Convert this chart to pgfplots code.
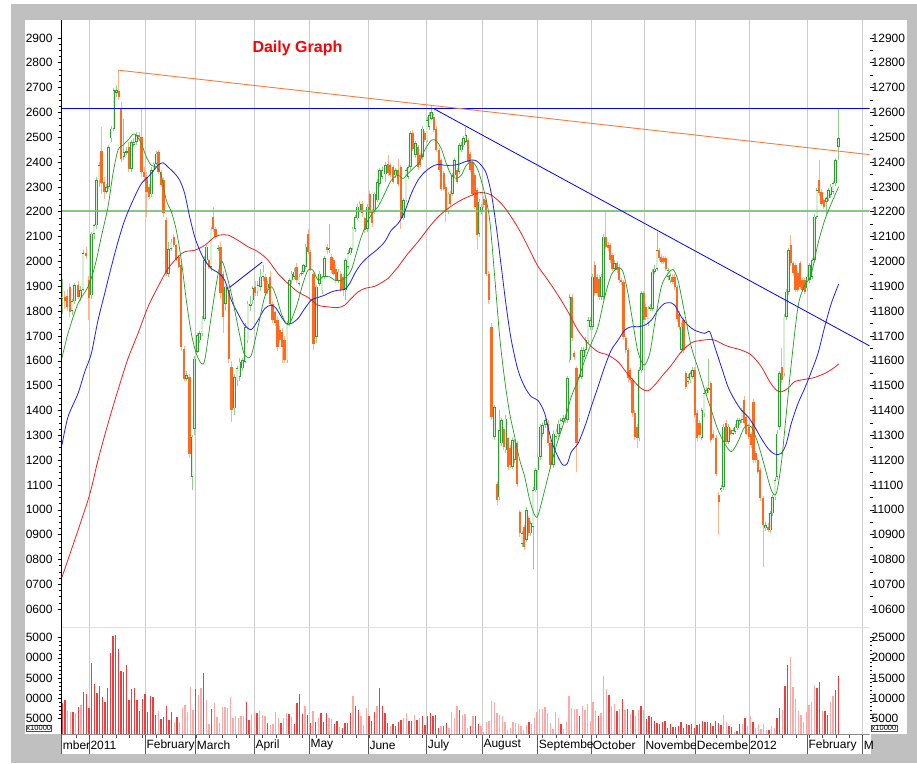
\documentclass[border=0pt]{standalone}
\usepackage{fontspec}
\setmainfont{Liberation Sans}
\usepackage{pgfplots}
\usepackage{pgfplotstable}
\pgfplotsset{compat=1.18}
\pgfplotsset{scaled x ticks=false, scaled y ticks=false}
\definecolor{cOr}{HTML}{FF6A1F}
\definecolor{cOrW}{HTML}{FFB48C}
\definecolor{cGr}{HTML}{2E9E2E}
\definecolor{cGrW}{HTML}{8FD08F}
\definecolor{cGrF}{HTML}{D6F0D6}
\definecolor{cVolD}{HTML}{F03C3C}
\definecolor{cVolL}{HTML}{FFA8A8}
\definecolor{cGrid}{HTML}{CCCCCC}
\definecolor{cFrame}{HTML}{C0C0C0}
\definecolor{cMAg}{HTML}{1E9E1E}
\definecolor{cMAb}{HTML}{2020F0}
\definecolor{cMAr}{HTML}{F02020}
\definecolor{cHG}{HTML}{70C070}
\definecolor{cTrO}{HTML}{FF7A3A}

\pgfplotstableread{
x o h l c
62.0 11850 11931 11790 11858
72.0 11800 11850 11785 11840
74.7 11840 11915 11830 11905
80.7 11855 11900 11840 11885
83.0 11885 12045 11880 12032
91.5 11864 12120 11850 12112
94.0 12112 12150 12090 12146
96.5 12146 12340 12130 12327
99.0 12327 12400 12300 12387
106.3 12280 12310 12270 12300
108.7 12300 12470 12290 12459
111.2 12495 12545 12480 12535
113.8 12535 12700 12525 12689
116.3 12680 12710 12660 12690
123.8 12420 12575 12410 12440
126.3 12440 12460 12430 12444
131.3 12374 12490 12360 12481
133.9 12470 12495 12460 12481
136.4 12481 12520 12470 12508
151.4 12270 12380 12260 12367
153.8 12367 12400 12360 12394
156.2 12394 12445 12390 12434
168.5 11951 12080 11938 12050
171.0 12050 12090 12040 12079
186.7 11528 11560 11520 11542
192.2 11133 11300 11079 11294
194.7 11327 11620 11300 11609
197.3 11636 11710 11630 11703
199.7 11683 11720 11670 11710
202.0 11710 11780 11700 11770
204.3 11770 12020 11760 12005
206.6 12005 12065 11990 12059
211.0 11978 12140 11960 12132
218.0 12050 12065 12040 12054
225.6 11830 11900 11800 11898
234.3 11408 11545 11380 11535
237.0 11522 11580 11500 11569
239.8 11535 11610 11520 11596
242.5 11570 11610 11560 11602
245.2 11596 11750 11590 11736
247.9 11683 11840 11670 11830
250.4 11820 11860 11800 11830
252.8 11844 11900 11830 11891
257.9 11880 11920 11860 11904
260.5 11898 11970 11880 11938
263.0 11938 11985 11920 11958
267.8 11891 11920 11870 11911
287.0 11602 11760 11590 11750
289.4 11750 11935 11740 11924
291.8 11924 11960 11910 11951
294.2 11938 11975 11930 11958
299.0 11911 11950 11900 11938
301.4 11950 11960 11940 11955
303.6 11958 11990 11950 11985
305.8 11978 12070 11970 12059
316.6 11696 11905 11670 11898
319.4 11911 11960 11900 11951
322.0 11884 11940 11870 11938
324.7 11938 12020 11930 12012
329.2 12045 12152 12035 12052
338.2 11924 11970 11915 11958
345.7 11884 12015 11844 12005
348.0 11978 12045 11970 12032
350.5 12032 12060 12025 12052
352.9 12052 12140 12045 12132
355.2 12132 12185 12120 12179
357.5 12173 12230 12165 12220
359.8 12206 12245 12200 12233
367.3 12132 12230 12120 12220
374.7 12200 12280 12190 12273
377.3 12246 12330 12240 12320
379.7 12313 12375 12300 12367
382.2 12340 12380 12330 12367
385.3 12350 12400 12320 12387
395.3 12347 12375 12335 12367
403.3 12173 12255 12165 12246
406.0 12246 12375 12240 12367
408.2 12340 12390 12330 12380
410.4 12380 12525 12370 12515
415.3 12428 12485 12415 12475
422.5 12421 12545 12410 12535
427.0 12488 12580 12480 12568
429.1 12542 12600 12530 12589
431.3 12575 12625 12570 12602
448.0 12200 12280 12190 12273
452.3 12273 12355 12265 12347
454.7 12347 12415 12340 12408
459.1 12360 12475 12350 12468
461.3 12448 12480 12440 12468
463.6 12468 12505 12460 12495
465.8 12481 12542 12475 12508
479.1 12112 12250 12100 12240
481.3 12200 12230 12190 12220
494.5 11294 11420 11280 11414
499.2 11050 11401 11040 11320
501.4 11267 11370 11255 11361
505.8 11240 11380 11230 11367
512.4 11173 11290 11165 11280
514.7 11200 11285 11190 11274
522.0 10864 10915 10850 10905
526.3 10878 11010 10870 10998
530.8 10905 10955 10895 10945
533.0 10931 11090 10763 11079
535.3 11079 11170 11070 11159
537.8 11159 11225 11150 11213
540.3 11213 11345 11200 11334
542.6 11307 11350 11295 11340
545.3 11341 11375 11330 11361
553.3 11180 11320 11170 11307
556.0 11294 11325 11285 11314
558.5 11307 11360 11295 11347
560.9 11327 11370 11315 11361
563.1 11355 11380 11345 11368
565.3 11361 11385 11350 11368
567.5 11361 11540 11350 11529
569.8 11602 11870 11590 11857
579.0 11368 11545 11355 11535
581.3 11535 11655 11525 11643
583.6 11616 11655 11605 11643
585.8 11643 11695 11630 11683
588.0 11683 11775 11670 11763
590.2 11737 11775 11725 11763
592.5 11737 11950 11725 11938
601.3 11857 11950 11845 11938
603.6 11857 12110 11845 12099
614.7 11971 12005 11960 11992
639.1 11287 11575 11275 11562
641.3 11562 11880 11550 11871
648.0 11750 11820 11740 11810
650.2 11810 11830 11800 11817
652.4 11810 11970 11800 11958
654.7 11958 11985 11950 11971
657.0 11971 12119 11960 12045
668.0 11938 11975 11925 11965
670.2 11924 11955 11915 11945
681.3 11643 11750 11630 11737
688.0 11515 11545 11505 11535
690.2 11522 11560 11510 11549
692.4 11535 11575 11525 11562
701.8 11290 11410 11280 11400
704.0 11388 11480 11375 11469
706.3 11469 11495 11460 11482
708.5 11482 11609 11470 11490
721.2 11079 11100 11070 11086
723.7 11093 11345 11080 11334
728.6 11274 11345 11265 11334
733.0 11307 11330 11300 11321
735.2 11314 11345 11305 11334
737.3 11328 11370 11320 11361
739.6 11348 11370 11340 11361
741.9 11361 11410 11350 11401
765.6 10925 10950 10915 10938
770.3 10918 10995 10905 10985
772.6 10985 11060 10975 11050
775.0 11050 11130 11040 11120
777.2 11133 11320 11120 11307
779.5 11334 11560 11320 11549
784.0 11549 11790 11540 11777
786.3 11777 11890 11765 11878
788.6 11878 12055 11865 12045
807.2 11891 11945 11880 11938
809.7 11925 11995 11915 11985
812.1 11938 12015 11930 12005
814.6 12005 12190 11995 12180
816.9 12180 12295 12170 12287
826.3 12240 12260 12185 12254
828.6 12254 12295 12245 12287
830.8 12267 12310 12255 12301
833.0 12280 12325 12270 12314
835.3 12314 12415 12305 12408
838.7 12462 12615 12408 12495
}\upc

\pgfplotstableread{
x o h l c
64.7 11858 11880 11810 11840
67.0 11860 11890 11800 11815
69.7 11898 11915 11775 11797
78.0 11905 11920 11850 11855
86.1 12032 12060 12010 12020
88.8 11925 11940 11764 11851
101.5 12445 12542 12270 12314
104.0 12320 12340 12250 12280
118.8 12687 12770 12650 12663
121.3 12615 12640 12400 12414
128.8 12461 12480 12360 12374
139.0 12508 12520 12490 12499
141.5 12499 12615 12340 12360
144.0 12360 12380 12320 12340
146.5 12340 12360 12179 12280
149.0 12300 12310 12250 12260
158.6 12441 12450 12350 12360
161.0 12360 12370 12300 12307
163.5 12327 12340 12180 12193
166.0 12166 12180 11940 11951
173.7 12099 12110 12060 12065
176.3 12065 12070 12000 12005
178.8 12018 12025 11975 11978
181.3 11985 12000 11640 11656
184.0 11649 11660 11520 11528
189.5 11535 11545 11210 11226
208.8 12005 12010 11970 11978
213.3 12179 12220 12120 12132
215.6 12132 12140 12090 12099
220.5 12059 12080 11850 11871
223.0 11951 11960 11710 11776
228.7 11884 11900 11590 11609
231.6 11576 11600 11354 11401
255.3 11898 11920 11860 11871
265.4 11938 11950 11860 11871
270.2 11938 11960 11820 11830
272.6 11830 11840 11750 11763
275.0 11797 11800 11740 11750
277.4 11763 11780 11640 11656
279.8 11723 11740 11670 11683
282.2 11716 11730 11590 11656
284.6 11683 11700 11590 11602
296.6 11978 11995 11915 11924
308.0 12112 12132 12030 12038
310.3 12038 12045 11960 11965
313.6 11951 11960 11642 11669
327.0 12059 12070 12030 12045
331.4 12018 12030 11955 11965
333.6 12005 12015 11945 11951
335.9 11971 11985 11915 11924
340.7 11951 11960 11875 11884
343.0 11938 11950 11860 11884
362.3 12233 12245 12180 12193
364.7 12173 12180 12115 12126
369.7 12273 12285 12185 12193
372.0 12200 12210 12140 12153
388.0 12394 12428 12345 12354
390.3 12387 12395 12340 12347
393.0 12380 12390 12310 12320
398.0 12367 12414 12305 12313
400.7 12380 12390 12132 12173
412.7 12515 12530 12445 12454
418.0 12461 12470 12370 12380
420.3 12428 12435 12380 12387
424.7 12515 12525 12480 12488
433.7 12582 12595 12520 12528
436.3 12535 12545 12440 12448
439.0 12448 12455 12360 12367
441.3 12408 12415 12285 12293
443.7 12354 12365 12285 12293
445.9 12300 12310 12160 12200
450.2 12273 12285 12225 12233
457.0 12367 12375 12310 12320
468.0 12488 12495 12395 12401
470.3 12434 12440 12360 12367
472.4 12401 12410 12265 12273
474.7 12347 12355 12210 12220
477.0 12287 12295 12050 12105
483.8 12253 12265 12215 12226
486.3 12246 12255 11940 11951
488.8 11951 11960 11830 11844
491.5 11736 11750 11360 11374
497.0 11105 11115 11020 11038
503.7 11327 11335 11240 11253
508.0 11287 11295 11160 11173
510.3 11250 11260 11170 11180
517.0 11267 11275 11090 11105
519.7 10992 11000 10890 10905
524.1 10931 10940 10840 10851
528.7 10965 10975 10895 10905
548.0 11347 11360 11255 11267
550.5 11267 11280 11165 11180
572.0 11857 11870 11680 11690
574.1 11630 11640 11605 11616
576.4 11569 11580 11153 11267
594.7 11985 12000 11860 11871
597.0 11938 11950 11860 11871
599.1 11931 11945 11845 11857
605.9 12099 12202 12050 12059
608.1 12065 12080 12040 12052
610.3 12065 12075 11995 12005
612.4 12025 12035 11960 11971
617.0 11992 12000 11955 11965
619.1 11978 11990 11915 11924
621.3 11924 11935 11905 11918
623.6 11918 11925 11685 11696
625.8 11690 11700 11630 11643
628.0 11643 11650 11515 11529
630.3 11562 11570 11510 11522
632.4 11522 11530 11375 11388
634.7 11388 11400 11280 11294
637.0 11334 11345 11247 11287
643.6 11871 11880 11750 11763
645.8 11817 11830 11765 11777
659.1 12045 12055 12000 12012
661.3 12018 12030 11990 11998
663.6 12012 12020 11990 11998
665.8 12012 12020 11960 11971
672.4 11938 11950 11910 11918
674.7 11938 11950 11885 11898
677.0 11898 11905 11755 11770
679.1 11790 11800 11725 11737
683.6 11763 11775 11630 11643
685.8 11549 11560 11485 11495
694.7 11562 11575 11370 11381
697.0 11388 11400 11275 11287
699.4 11350 11360 11290 11300
710.8 11509 11520 11270 11281
713.1 11307 11320 11280 11287
716.3 11287 11300 11135 11146
718.7 11059 11070 10898 11032
726.2 11348 11360 11265 11274
730.8 11321 11330 11300 11307
744.1 11442 11460 11340 11348
746.3 11374 11385 11300 11307
748.7 11334 11345 11285 11294
751.0 11307 11315 11250 11260
753.4 11435 11445 11190 11200
755.7 11227 11235 11190 11200
757.9 11200 11210 11145 11153
760.2 11160 11170 11035 11046
763.0 11046 11055 10771 10938
768.0 10931 10945 10910 10918
781.8 11576 11650 11510 11522
790.9 12066 12106 11980 11992
793.1 11992 12000 11940 11952
795.4 11985 11995 11875 11885
797.9 11952 11960 11875 11885
800.3 11992 12000 11890 11898
802.5 11925 11935 11875 11885
804.8 11925 11935 11870 11878
819.3 12327 12408 12265 12274
821.6 12280 12290 12225 12233
823.9 12247 12255 12210 12220
}\dnc

\pgfplotstableread{
x v
62 11611
68 11710
78 11830
88 11898
94.7 11978
101.3 12099
108 12220
113 12354
118 12448
123 12468
128 12488
133 12512
136.3 12508
141.3 12475
146.3 12421
151.3 12387
156.3 12380
161.3 12347
166.3 12246
171.3 12200
176.3 12126
181.3 12005
186.3 11844
191.3 11710
196.3 11629
201.3 11589
204.7 11602
209.7 11736
214.7 11871
219.7 11980
223 11994
231.3 11871
238 11736
243 11642
246.3 11616
251.3 11622
258 11736
264.7 11857
271.3 11898
276.3 11857
281.3 11790
286.3 11750
289.7 11750
296.3 11817
303 11911
308 11965
313 11965
318 11924
323 11938
329.7 11938
334.7 11924
341.3 11924
346.3 11938
351.3 11965
356.3 12032
361.3 12099
368 12166
374.7 12206
378 12220
384.7 12273
391.3 12327
398 12347
403 12334
408 12354
414.7 12380
419.7 12401
424.7 12448
431.3 12488
436.3 12485
441.3 12454
446.3 12394
451.3 12347
456.3 12334
461.3 12347
466.3 12387
472.3 12401
478 12367
484.7 12273
489.7 12166
494.7 11938
499.7 11696
504.7 11522
509.7 11388
514.7 11294
519.7 11200
524.7 11133
529.7 11039
534.7 10978
538 10978
544.7 11079
551.3 11186
558 11280
564.7 11361
571.3 11455
578 11522
584.7 11602
591.3 11670
598 11737
604.7 11857
611.3 11945
618 11975
623 11958
628 11871
633 11750
638 11636
644 11582
649.7 11629
654.7 11750
661.3 11898
668 11951
673 11967
678 11924
684.7 11790
691.3 11656
698 11570
704.7 11482
711.3 11401
718 11321
724.7 11267
731.3 11234
738 11274
744.7 11334
751.3 11334
758 11267
764.7 11173
771.3 11079
776.3 11066
781.3 11187
786.3 11388
791.3 11589
798 11817
804 11898
809.7 11932
813 11979
818 12072
824.7 12166
831.3 12233
838.7 12301
}\maG

\pgfplotstableread{
x v
62 11261
68 11374
78 11468
84.7 11555
91.3 11629
98 11763
104.7 11871
111.3 11978
118 12079
124.7 12166
133 12246
141.3 12313
149.7 12347
158 12387
163 12397
168 12380
174.7 12354
179.7 12327
184.7 12273
189.7 12179
194.7 12099
199.7 12045
204.7 12005
211.3 11971
218 11955
224.7 11924
231.3 11844
238 11790
244.7 11743
251.3 11726
258 11763
264.7 11810
271.3 11824
276.3 11810
281.3 11777
286.3 11750
291.3 11750
298 11770
304.7 11810
311.3 11844
318 11855
324.7 11864
331.3 11877
338 11884
344.7 11887
349.7 11911
354.7 11951
361.3 11991
368 12018
376.3 12045
384.7 12079
391.3 12126
398 12152
404.7 12200
411.3 12273
418 12327
424.7 12360
431.3 12380
438 12391
444.7 12387
451.3 12387
458 12390
464.7 12401
471.3 12408
476.3 12405
481.3 12387
486.3 12354
491.3 12273
496.3 12139
501.3 11978
506.3 11817
511.3 11683
518 11562
524.7 11495
531.3 11455
538 11440
544.7 11388
551.3 11280
558 11213
563 11180
567.3 11186
571.3 11233
578 11267
584.7 11334
591.3 11415
598 11495
604.7 11576
611.3 11643
618 11683
624.7 11723
631.3 11737
638 11737
644.7 11743
651.3 11763
658 11804
664.7 11831
671.3 11833
674.7 11824
681.3 11777
688 11743
694.7 11723
704.7 11710
709.7 11717
714.7 11656
721.3 11576
728 11495
734.7 11442
741.3 11401
748 11375
754.7 11334
761.3 11287
768 11247
774.7 11224
781.3 11227
786.3 11267
791.3 11348
798 11428
804.7 11489
811.3 11556
818 11630
824.7 11737
831.3 11831
838.7 11909
}\maB

\pgfplotstableread{
x v
62 10729
88 11039
98 11200
108 11347
118 11482
128 11609
138 11710
148 11817
158 11898
168 11971
178 12018
184.7 12039
194.7 12045
204.7 12065
214.7 12099
219.7 12106
228 12106
238 12085
248 12059
258 12039
268 12005
278 11951
288 11911
298 11877
308 11855
318 11824
328 11817
338 11814
344.7 11824
351.3 11851
358 11877
364.7 11891
374.7 11900
383 11918
388 11931
398 11978
408 12032
418 12079
428 12132
438 12179
448 12213
458 12240
468 12260
478 12276
484.7 12276
491.3 12267
501.3 12233
511.3 12179
521.3 12112
531.3 12032
538 11980
548 11924
558 11864
568 11797
578 11723
588 11670
598 11636
608 11623
618 11596
624.7 11562
633 11522
641.3 11488
648 11479
654.7 11502
661.3 11535
671.3 11582
681.3 11636
691.3 11672
698 11680
711.3 11686
718 11677
724.7 11663
731.3 11654
741.3 11643
751.3 11623
761.3 11576
769.7 11516
776.3 11482
781.3 11475
788 11489
794.7 11516
804.7 11525
814.7 11533
824.7 11549
833 11569
838.7 11587
}\maR

\pgfplotstableread[row sep=\\]{
v f\\
8870 1\\ 9540 1\\ 6890 0\\ 6600 0\\ 6600 1\\ 6200 0\\ 7700 1\\ 8290 0\\ 11600 1\\ 10930 1\\
7600 1\\ 18640 1\\ 13500 1\\ 11180 1\\ 13000 1\\ 10350 1\\ 9120 1\\ 12430 1\\ 21150 1\\ 25450 1\\
25700 1\\ 22180 1\\ 16800 1\\ 16390 1\\ 18130 1\\ 9600 1\\ 12270 1\\ 12430 1\\ 9600 1\\ 6860 1\\
9700 1\\ 11000 1\\ 6600 1\\ 10600 1\\ 10270 1\\ 5900 1\\ 6860 0\\ 4790 1\\ 5200 1\\ 8000 1\\
4600 1\\ 6600 1\\ 4100 0\\ 5200 1\\ 4100 0\\ 7450 0\\ 8290 0\\ 6600 0\\ 12700 0\\ 7030 0\\
12270 1\\ 10770 0\\ 12430 0\\ 16200 1\\ 9600 0\\ 3580 0\\ 7290 1\\ 8870 0\\ 5350 0\\ 3940 0\\
7700 0\\ 7700 0\\ 7450 0\\ 10270 0\\ 5030 0\\ 5600 0\\ 4950 0\\ 5450 0\\ 5600 0\\ 9120 1\\
4600 1\\ 5990 0\\ 6530 0\\ 6200 1\\ 6860 0\\ 5700 0\\ 5600 0\\ 3940 1\\ 3360 0\\ 3580 0\\
6600 0\\ 5030 0\\ 3940 1\\ 4950 0\\ 6200 0\\ 5990 1\\ 5200 0\\ 3580 1\\ 8870 1\\
11120 1\\ 6030 1\\ 7940 0\\ 5860 1\\ 3790 1\\ 6690 0\\ 4200 1\\ 5030 0\\ 6270 1\\ 4200 1\\
6270 1\\ 4950 0\\ 4780 0\\ 3540 1\\ 4450 1\\ 2800 0\\ 2550 1\\ 3790 1\\ 3790 1\\ 6270 1\\
10570 0\\ 7940 1\\ 6940 1\\ 5610 0\\ 3380 0\\ 7530 0\\ 5450 1\\ 4450 1\\ 6440 1\\ 8100 0\\
12490 1\\ 7940 1\\ 6270 1\\ 3790 1\\ 2970 0\\ 3630 1\\ 2970 1\\ 4200 1\\ 4620 1\\ 5030 0\\
6270 0\\ 4450 1\\ 4450 1\\ 5860 0\\ 4620 1\\ 5030 0\\ 5450 1\\ 3380 1\\ 5450 1\\ 6270 1\\
5450 1\\ 5860 1\\ 2550 1\\ 2970 0\\ 2970 1\\ 3790 1\\ 2550 0\\ 6520 0\\ 5030 0\\ 7940 0\\
6940 1\\ 5860 0\\ 6110 0\\ 2550 0\\ 2970 1\\ 5450 0\\ 5610 1\\ 3630 1\\ 3130 0\\ 1480 0\\
3960 0\\ 4450 0\\ 9410 0\\ 9160 0\\ 6270 0\\ 5860 0\\ 5450 0\\ 4200 0\\ 1970 0\\ 2550 0\\
4040 0\\ 3790 0\\ 3630 0\\ 3130 0\\ 2140 0\\ 3380 0\\ 3960 1\\ 3630 0\\ 5030 0\\ 6440 0\\
7270 0\\ 7270 0\\ 7770 0\\ 6270 0\\ 3790 0\\ 2300 0\\ 6440 0\\ 5030 0\\ 3630 1\\ 2300 0\\
3960 0\\ 10570 0\\ 7520 0\\ 7270 0\\ 7270 0\\ 5610 1\\ 8100 0\\ 7110 0\\ 8600 0\\ 4450 0\\
8930 0\\ 6690 0\\ 5450 1\\ 6270 0\\
15610 0\\ 12200 0\\ 10820 1\\ 8100 0\\ 8600 0\\ 6860 1\\ 7270 0\\ 9850 1\\ 6940 0\\ 7360 1\\
6110 0\\ 7110 1\\ 5610 0\\ 6940 0\\ 8100 1\\ 6940 0\\ 4780 1\\ 5450 1\\ 5200 1\\ 4450 1\\
3790 1\\ 3630 1\\ 3960 1\\ 4450 1\\ 2550 1\\ 3630 1\\ 2720 1\\ 2720 1\\ 2970 1\\ 4200 1\\
2550 1\\ 3630 1\\ 3380 1\\ 3630 1\\ 2550 1\\ 3380 1\\ 3630 1\\ 4450 1\\ 3960 1\\ 3960 1\\
3790 1\\ 2970 1\\ 4450 1\\ 3790 1\\ 3380 1\\ 5860 0\\ 3960 0\\ 2970 1\\ 2800 1\\ 1720 0\\
1890 1\\ 3630 1\\ 3630 0\\ 5030 1\\ 3130 0\\ 5610 0\\ 4200 1\\ 2550 0\\ 3630 0\\ 2300 0\\
3540 0\\ 2140 0\\ 2140 1\\ 2970 0\\ 2550 0\\ 4950 1\\ 7530 1\\ 7110 0\\ 13070 1\\ 18110 1\\
20090 0\\ 12740 0\\ 9850 0\\ 6690 0\\ 5860 0\\ 4200 0\\ 6440 0\\ 8350 0\\ 8930 0\\ 13320 0\\
12490 1\\ 13980 1\\ 6690 0\\ 6690 1\\ 5860 1\\ 8930 0\\ 10410 0\\ 12070 1\\ 15370 1\\
}\vol

\begin{document}
\begin{tikzpicture}
% background and frame
\fill[white] (0pt,0pt) rectangle (917pt,763pt);
\fill[cFrame] (11pt,0pt) rectangle (917pt,759pt);
\fill[white] (25pt,29pt) rectangle (906.7pt,743pt);
\fill[white] (61.7pt,9pt) rectangle (870.5pt,29pt);

% month grid over both panels
\begin{axis}[at={(61.7pt,29pt)}, anchor=south west, scale only axis,
  width=807.8pt, height=714pt, xmin=61.7, xmax=869.5, ymin=0, ymax=1,
  axis line style={draw=none}, ytick=\empty,
  xtick={89.3,145.3,195.7,254.3,309.3,368.3,426.7,482.3,537.7,591.7,644.3,695.7,749,807.3,862.7},
  xticklabels={,,,,,,,,,,,,,,,}, major tick length=0pt,
  xmajorgrids, grid style={cGrid, line width=0.9pt}]
\end{axis}

% price panel, left axis
\begin{axis}[at={(61.7pt,136pt)}, anchor=south west, scale only axis,
  width=807.8pt, height=607pt,
  xmin=61.7, xmax=869.5, ymin=10528, ymax=12972,
  axis x line=none, axis y line*=left,
  y axis line style={black, line width=0.5pt},
  ytick={10600,10700,...,12900},
  yticklabels={0600,0700,0800,0900,1000,1100,1200,1300,1400,1500,1600,1700,1800,1900,2000,2100,2200,2300,2400,2500,2600,2700,2800,2900},
  minor y tick num=3, tick align=outside,
  major tick length=4pt, minor tick length=2.5pt,
  tick style={black, line width=0.5pt},
  yticklabel style={font=\fontsize{12}{14}\selectfont, inner xsep=0pt, xshift=-5pt}]
% wicks
\addplot[draw=none, mark=none, forget plot, error bars/.cd, y dir=minus, y explicit, error mark=none,
  error bar style={draw=cOrW, line width=1.0pt}]
  table[x=x, y=h, y error expr=\thisrow{h}-\thisrow{l}] {\dnc};
\addplot[draw=none, mark=none, forget plot, error bars/.cd, y dir=minus, y explicit, error mark=none,
  error bar style={draw=cGrW, line width=1.0pt}]
  table[x=x, y=h, y error expr=\thisrow{h}-\thisrow{l}] {\upc};
% bodies
\addplot[draw=none, mark=none, forget plot, error bars/.cd, y dir=minus, y explicit, error mark=none,
  error bar style={draw=cOr, line width=2.3pt}]
  table[x=x, y=o, y error expr={max(\thisrow{o}-\thisrow{c},6)}] {\dnc};
\addplot[draw=none, mark=none, forget plot, error bars/.cd, y dir=minus, y explicit, error mark=none,
  error bar style={draw=cGr, line width=2.5pt}]
  table[x=x, y=c, y error expr={max(\thisrow{c}-\thisrow{o},6)}] {\upc};
\addplot[draw=none, mark=none, forget plot, error bars/.cd, y dir=minus, y explicit, error mark=none,
  error bar style={draw=cGrF, line width=1.2pt}]
  table[x=x, y expr=\thisrow{c}-2.5, y error expr={max(\thisrow{c}-\thisrow{o}-5,0)}] {\upc};
% horizontal levels
\addplot[cHG, line width=1.8pt, opacity=0.85] coordinates {(61.7,12204) (869.5,12204)};
\addplot[blue, line width=0.9pt] coordinates {(61.7,12616) (869.5,12616)};
% moving averages
\addplot[cMAr, line width=0.8pt, smooth] table[x=x, y=v] {\maR};
\addplot[cMAb, line width=0.8pt, smooth] table[x=x, y=v] {\maB};
\addplot[cMAg, line width=0.7pt, smooth] table[x=x, y=v] {\maG};
% trend lines
\addplot[cTrO, line width=0.9pt] coordinates {(118.3,12770) (869.5,12430)};
\addplot[blue, line width=0.8pt] coordinates {(433.3,12616) (869.5,11660)};
\addplot[blue, line width=0.8pt] coordinates {(229.5,11895) (262.3,11998)};
\end{axis}

% price panel, right labels
\begin{axis}[at={(61.7pt,136pt)}, anchor=south west, scale only axis,
  width=807.8pt, height=607pt,
  xmin=61.7, xmax=869.5, ymin=10528, ymax=12972,
  axis x line=none, axis y line*=right,
  y axis line style={draw=none},
  ytick={10600,10700,...,12900},
  yticklabels={10600,10700,10800,10900,11000,11100,11200,11300,11400,11500,11600,11700,11800,11900,12000,12100,12200,12300,12400,12500,12600,12700,12800,12900},
  minor y tick num=1, tick align=outside,
  major tick length=4pt, minor tick length=3pt,
  tick style={black, line width=0.5pt},
  yticklabel style={font=\fontsize{12}{14}\selectfont, inner xsep=0pt, xshift=-2pt}]
\end{axis}

% volume panel
\begin{axis}[at={(61.7pt,29pt)}, anchor=south west, scale only axis,
  width=807.8pt, height=107pt,
  xmin=-0.225, xmax=302.67, ymin=1100, ymax=27650,
  axis x line=none, axis y line*=left,
  y axis line style={black, line width=0.5pt},
  ytick={5000,10000,15000,20000,25000},
  yticklabels={5000,0000,5000,0000,5000},
  minor y tick num=4, tick align=outside,
  major tick length=4pt, minor tick length=2.5pt,
  tick style={black, line width=0.5pt},
  yticklabel style={font=\fontsize{12}{14}\selectfont, inner xsep=0pt, xshift=-5pt}]
\addplot[ycomb, cVolD, line width=1.4pt] table[x expr=\coordindex, y expr=\thisrow{v}*\thisrow{f}] {\vol};
\addplot[ycomb, cVolL, line width=1.4pt] table[x expr=\coordindex, y expr=\thisrow{v}*(1-\thisrow{f})] {\vol};
\draw[black!12, line width=0.8pt] (rel axis cs:0,1) -- (rel axis cs:1,1);
\end{axis}

\begin{axis}[at={(61.7pt,29pt)}, anchor=south west, scale only axis,
  width=807.8pt, height=107pt,
  xmin=-0.225, xmax=302.67, ymin=1100, ymax=27650,
  axis x line=none, axis y line*=right,
  y axis line style={draw=none},
  ytick={5000,10000,15000,20000,25000},
  yticklabels={5000,10000,15000,20000,25000},
  minor y tick num=4, tick align=outside,
  major tick length=4pt, minor tick length=2pt,
  tick style={black, line width=0.5pt},
  yticklabel style={font=\fontsize{12}{14}\selectfont, inner xsep=0pt, xshift=-2pt}]
\end{axis}

% date strip
\begin{axis}[at={(61.7pt,9pt)}, anchor=south west, scale only axis,
  width=807.8pt, height=20pt, xmin=61.7, xmax=869.5, ymin=0, ymax=1,
  axis line style={draw=none}, ytick=\empty,
  xtick={61.7,89.3,145.3,195.7,254.3,309.3,368.3,426.7,482.3,537.7,591.7,644.3,695.7,749,807.3,862.7},
  xticklabels={mber,2011,February,March,April,May,June,July,August,Septembe,October,Novembe,Decembe,2012,February,M},
  minor xtick={76,89.33,...,869},
  xtick pos=upper, xticklabel pos=lower, tick align=inside,
  major tick length=0pt, minor tick length=4pt,
  minor tick style={black!70, line width=0.6pt},
  xmajorgrids, grid style={black!65, line width=0.8pt},
  xticklabel style={font=\fontsize{12}{14}\selectfont, anchor=west, inner xsep=1pt, yshift=9pt}]
\draw[black!45, line width=0.6pt] (rel axis cs:0,1) -- (rel axis cs:1,1);
\end{axis}

% unit boxes and title
\node[draw=black!70, line width=0.5pt, fill=white, inner sep=0.6pt, font=\fontsize{7.5}{8}\selectfont] at (38.8pt,34.6pt) {x10000};
\node[draw=black!70, line width=0.5pt, fill=white, inner sep=0.6pt, font=\fontsize{7.5}{8}\selectfont] at (884pt,34.6pt) {x10000};
\node[anchor=west, text=red, font=\bfseries\fontsize{16}{18}\selectfont] at (249pt,714.7pt) {Daily Graph};
\end{tikzpicture}
\end{document}
